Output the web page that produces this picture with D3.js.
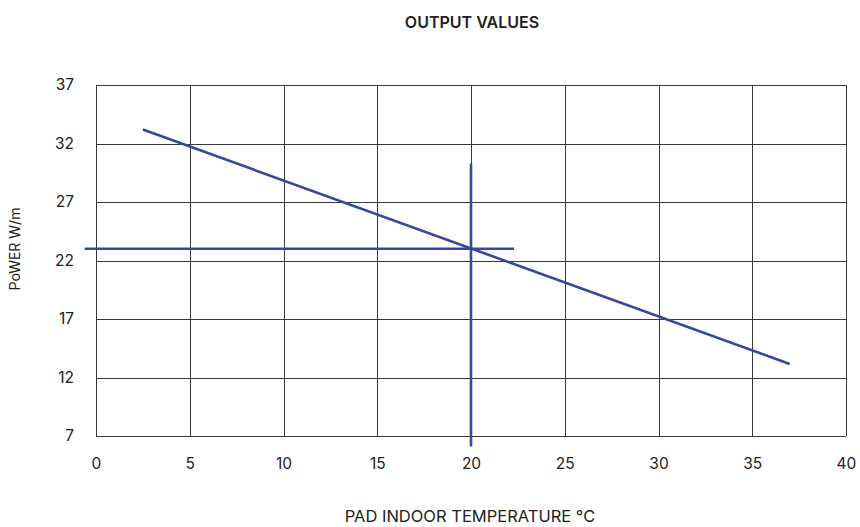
<!DOCTYPE html>
<html>
<head>
<meta charset="utf-8">
<script src="https://cdn.jsdelivr.net/npm/d3@7"></script>
<style>
  html, body { margin: 0; padding: 0; background: #fff; }
  svg { display: block; }
  text { font-family: Inter, "Liberation Sans", Arial, sans-serif; fill: #222; }
</style>
</head>
<body>
<svg id="chart" width="860" height="527"></svg>
<script>
// ---- data ----
const xTicks = [0, 5, 10, 15, 20, 25, 30, 35, 40];
const yTicks = [7, 12, 17, 22, 27, 32, 37];
const outputLineX = [2.5, 37];
const outputLineY = [33.2, 13.15];
const refHorizontalX = [-0.6, 22.3];
const refHorizontalY = [23, 23];
const refVerticalX = [20, 20];
const refVerticalY = [6.1, 30.3];
const title = "OUTPUT VALUES";
const xTitle = "PAD INDOOR TEMPERATURE °C";
const yTitle = "PoWER W/m";

// ---- layout ----
const W = 860, H = 527;
const m = { left: 96, right: 14, top: 85, bottom: 91 };
const svg = d3.select("#chart");
const FONT = 'Inter, "Liberation Sans", Arial, sans-serif';

const x = d3.scaleLinear().domain([0, 40]).range([m.left, W - m.right]);
const y = d3.scaleLinear().domain([7, 37]).range([H - m.bottom, m.top]);

const gridColor = "#3a3a3a";
const blue = "#36489a";

// grid
const g = svg.append("g");
g.selectAll("line.v").data(xTicks).join("line")
  .attr("x1", d => Math.round(x(d)) + 0.5).attr("x2", d => Math.round(x(d)) + 0.5)
  .attr("y1", y(37)).attr("y2", y(7))
  .attr("stroke", gridColor).attr("stroke-width", 1);
g.selectAll("line.h").data(yTicks).join("line")
  .attr("y1", d => Math.round(y(d)) + 0.5).attr("y2", d => Math.round(y(d)) + 0.5)
  .attr("x1", x(0)).attr("x2", x(40))
  .attr("stroke", gridColor).attr("stroke-width", 1);

// axes (labels only)
const xAxis = d3.axisBottom(x).tickValues(xTicks).tickSize(0).tickPadding(22);
svg.append("g").attr("transform", `translate(0,${y(7)})`).call(xAxis)
  .call(a => a.select(".domain").remove())
  .selectAll("text").style("font-size", "15.5px").attr("fill", "#222")
  .style("font-family", FONT);

const yAxis = d3.axisLeft(y).tickValues(yTicks).tickSize(0).tickPadding(22);
svg.append("g").attr("transform", `translate(${x(0)},0)`).call(yAxis)
  .call(a => a.select(".domain").remove())
  .selectAll("text").style("font-size", "15.5px").attr("fill", "#222")
  .style("font-family", FONT);

// lines
const line = d3.line().x(d => x(d[0])).y(d => y(d[1]));
function drawSeries(xs, ys) {
  svg.append("path")
    .datum(xs.map((v, i) => [v, ys[i]]))
    .attr("d", line)
    .attr("fill", "none")
    .attr("stroke", blue)
    .attr("stroke-width", 2.6);
}
drawSeries(refHorizontalX, refHorizontalY);
drawSeries(refVerticalX, refVerticalY);
drawSeries(outputLineX, outputLineY);

// titles
svg.append("text").attr("x", 472).attr("y", 28)
  .attr("text-anchor", "middle").style("font-size", "16px").style("font-weight", "600")
  .text(title);
svg.append("text").attr("x", 470).attr("y", 522)
  .attr("text-anchor", "middle").style("font-size", "16.5px")
  .text(xTitle);
svg.append("text")
  .attr("transform", `translate(20,249) rotate(-90)`)
  .attr("text-anchor", "middle").style("font-size", "14px")
  .text(yTitle);
</script>
</body>
</html>
